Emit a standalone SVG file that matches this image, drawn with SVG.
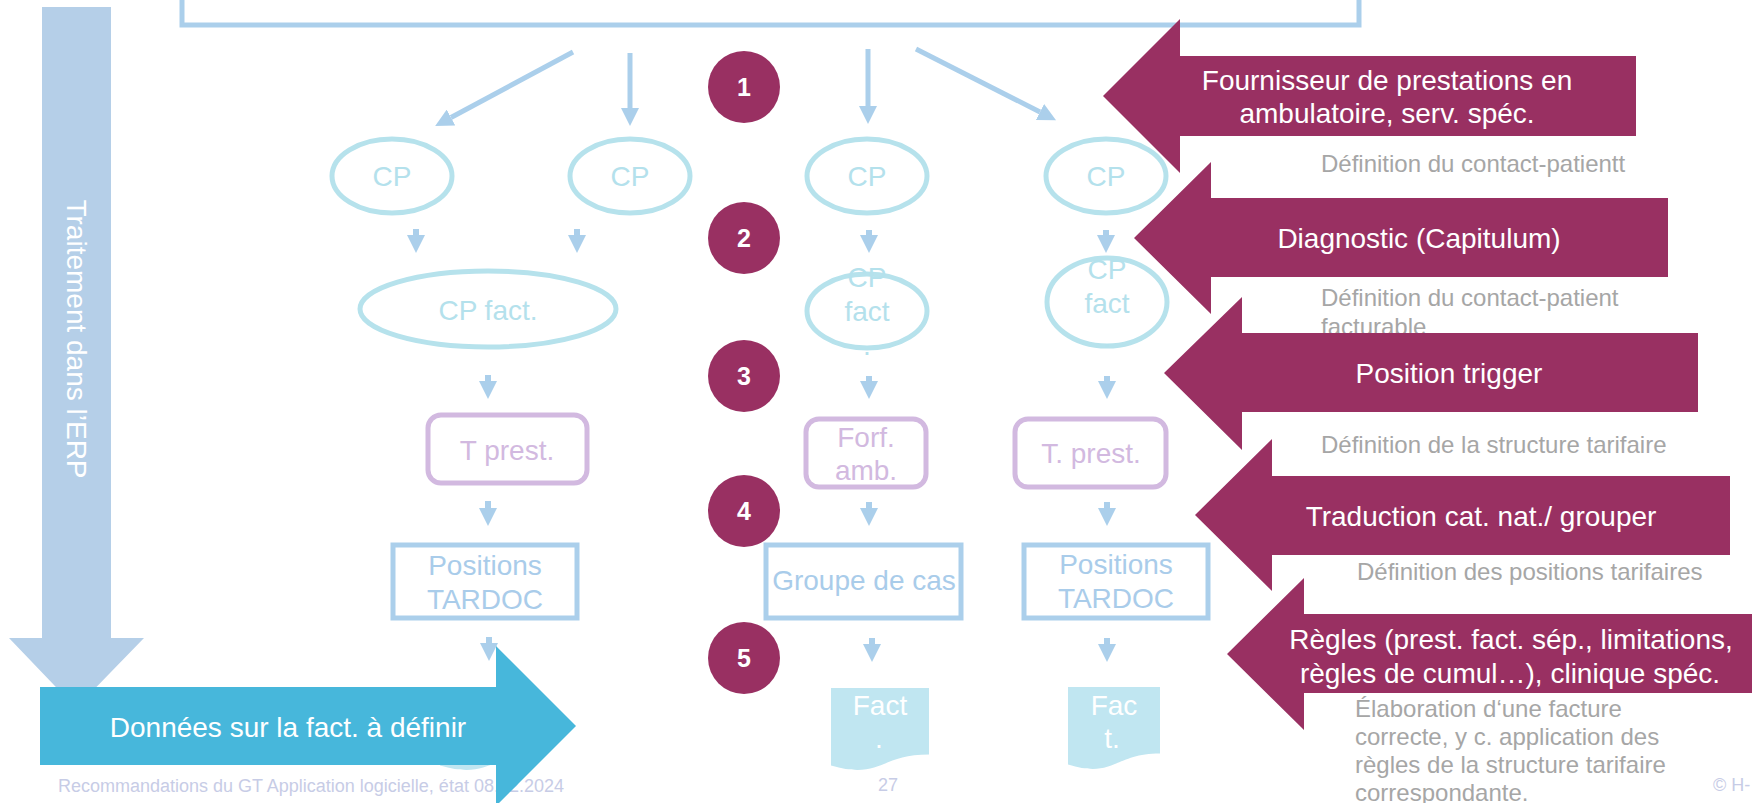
<svg xmlns="http://www.w3.org/2000/svg" width="1752" height="803" viewBox="0 0 1752 803">
<defs>
<style>
text{font-family:"Liberation Sans",Arial,sans-serif}
.t28{font-size:28px;text-anchor:middle}
.cyan{fill:#B4E1EC}
.lilac{fill:#D2B9E0}
.blue{fill:#A9CCEA}
.white{fill:#FFFFFF}
.gray{fill:#A6A6A6;font-size:24px}
.foot{fill:#C7CCE6;font-size:18px}
.num{fill:#FFFFFF;font-size:25px;font-weight:bold;text-anchor:middle}
.mag{fill:#993062}
.ell{fill:none;stroke:#B6E2EC;stroke-width:5}
.rr{fill:none;stroke:#D2B9E0;stroke-width:5}
.bx{fill:none;stroke:#ABCFEB;stroke-width:5}
.doc{fill:#C0E6F1}
.con{stroke:#ABCFEB;fill:none;marker-end:url(#ah)}
</style>
<marker id="ah" markerUnits="userSpaceOnUse" markerWidth="18" markerHeight="18" viewBox="0 0 18 18" refX="0" refY="9" orient="auto">
<path d="M0,0 L18,9 L0,18 Z" fill="#ABCFEB"/>
</marker>
</defs>
<rect width="1752" height="803" fill="#FFFFFF"/>

<g id="erp-arrow">
<polygon points="42,7 111,7 111,638 144,638 76,708 9,638 42,638" fill="#B5CFE8"/>
<text class="white" font-size="28" text-anchor="middle" transform="translate(67,339) rotate(90)">Traitement dans l’ERP</text>
</g>

<g id="top-box">
<rect x="182" y="-60" width="1177" height="85" fill="#FFFFFF" stroke="#ABCFEB" stroke-width="5"/>
</g>

<g id="connectors">
<line class="con" stroke-width="5" x1="573" y1="52" x2="451" y2="117.5"/>
<line class="con" stroke-width="5" x1="630" y1="53" x2="630" y2="108"/>
<line class="con" stroke-width="5" x1="868" y1="49" x2="868" y2="106"/>
<line class="con" stroke-width="5" x1="916" y1="49" x2="1040" y2="112"/>
<line class="con" stroke-width="6" x1="416" y1="229" x2="416" y2="235"/>
<line class="con" stroke-width="6" x1="577" y1="229" x2="577" y2="235"/>
<line class="con" stroke-width="6" x1="869" y1="230" x2="869" y2="235"/>
<line class="con" stroke-width="6" x1="1106" y1="230" x2="1106" y2="235"/>
<line class="con" stroke-width="6" x1="488" y1="375" x2="488" y2="381"/>
<line class="con" stroke-width="6" x1="869" y1="376" x2="869" y2="381"/>
<line class="con" stroke-width="6" x1="1107" y1="376" x2="1107" y2="381"/>
<line class="con" stroke-width="6" x1="488" y1="501" x2="488" y2="508"/>
<line class="con" stroke-width="6" x1="869" y1="502" x2="869" y2="508"/>
<line class="con" stroke-width="6" x1="1107" y1="502" x2="1107" y2="508"/>
<line class="con" stroke-width="6" x1="489" y1="637" x2="489" y2="643"/>
<line class="con" stroke-width="6" x1="872" y1="638" x2="872" y2="644"/>
<line class="con" stroke-width="6" x1="1107" y1="638" x2="1107" y2="644"/>
</g>

<g id="cp-1"><ellipse class="ell" cx="392" cy="176" rx="60" ry="37"/><text class="t28 cyan" x="392" y="186">CP</text></g>
<g id="cp-2"><ellipse class="ell" cx="630" cy="176" rx="60" ry="37"/><text class="t28 cyan" x="630" y="186">CP</text></g>
<g id="cp-3"><ellipse class="ell" cx="867" cy="176" rx="60" ry="37"/><text class="t28 cyan" x="867" y="186">CP</text></g>
<g id="cp-4"><ellipse class="ell" cx="1106" cy="176" rx="60" ry="37"/><text class="t28 cyan" x="1106" y="186">CP</text></g>

<g id="cpfact-12"><ellipse class="ell" cx="488" cy="309" rx="128" ry="38"/><text class="t28 cyan" x="488" y="320">CP fact.</text></g>
<g id="cpfact-3"><ellipse class="ell" cx="867" cy="311" rx="60" ry="37"/><text class="t28 cyan" x="867" y="287">CP</text><text class="t28 cyan" x="867" y="321">fact</text><text class="t28 cyan" x="867" y="355">.</text></g>
<g id="cpfact-4"><ellipse class="ell" cx="1107" cy="302" rx="60" ry="44"/><text class="t28 cyan" x="1107" y="279">CP</text><text class="t28 cyan" x="1107" y="313">fact</text><text class="t28 cyan" x="1107" y="347">.</text></g>

<g id="tprest-12"><rect class="rr" x="428" y="415" width="159" height="68" rx="13"/><text class="t28 lilac" x="507" y="460">T prest.</text></g>
<g id="forf-3"><rect class="rr" x="806" y="419" width="120" height="68" rx="13"/><text class="t28 lilac" x="866" y="447">Forf.</text><text class="t28 lilac" x="866" y="480">amb.</text></g>
<g id="tprest-4"><rect class="rr" x="1015" y="419" width="151" height="68" rx="13"/><text class="t28 lilac" x="1091" y="463">T. prest.</text></g>

<g id="pos-12"><rect class="bx" x="393" y="545" width="184" height="73"/><text class="t28 blue" x="485" y="575">Positions</text><text class="t28 blue" x="485" y="609">TARDOC</text></g>
<g id="groupe-3"><rect class="bx" x="766" y="545" width="195" height="73"/><text class="t28 blue" x="864" y="590">Groupe de cas</text></g>
<g id="pos-4"><rect class="bx" x="1024" y="545" width="184" height="73"/><text class="t28 blue" x="1116" y="574">Positions</text><text class="t28 blue" x="1116" y="608">TARDOC</text></g>

<g id="fact-12"><path class="doc" d="M440,688 H538 V754.6 C489,754.6 489,779.9 440,765.5 Z"/></g>
<g id="fact-3"><path class="doc" d="M831,688 H929 V754.6 C880,754.6 880,779.9 831,765.5 Z"/><text class="t28 white" x="880" y="715">Fact</text><text class="t28 white" x="879" y="748">.</text></g>
<g id="fact-4"><path class="doc" d="M1068,687 H1160 V753.6 C1114,753.6 1114,778.9 1068,764.5 Z"/><text class="t28 white" x="1114" y="715">Fac</text><text class="t28 white" x="1112" y="748">t.</text></g>

<g id="footer">
<text class="foot" x="58" y="792">Recommandations du GT Application logicielle, état 08.12.2024</text>
<text class="foot" x="888" y="791" text-anchor="middle">27</text>
<text class="foot" x="1713" y="791">© H-</text>
</g>

<g id="billing-arrow">
<polygon points="40,687 496,687 496,646 576,726 496,806 496,765 40,765" fill="#47B7DB"/>
<text class="t28 white" x="288" y="737">Données sur la fact. à définir</text>
</g>

<g id="descriptions">
<text class="gray" x="1321" y="172">Définition du contact-patientt</text>
<text class="gray" x="1321" y="306">Définition du contact-patient</text>
<text class="gray" x="1321" y="335">facturable</text>
<text class="gray" x="1321" y="453">Définition de la structure tarifaire</text>
<text class="gray" x="1357" y="580">Définition des positions tarifaires</text>
<text class="gray" x="1355" y="717">Élaboration d‘une facture</text>
<text class="gray" x="1355" y="745">correcte, y c. application des</text>
<text class="gray" x="1355" y="773">règles de la structure tarifaire</text>
<text class="gray" x="1355" y="801">correspondante.</text>
</g>

<g id="arrow-1">
<polygon class="mag" points="1103,96 1180,19 1180,56 1636,56 1636,136 1180,136 1180,173"/>
<text class="t28 white" x="1387" y="90">Fournisseur de prestations en</text>
<text class="t28 white" x="1387" y="123">ambulatoire, serv. spéc.</text>
</g>
<g id="arrow-2">
<polygon class="mag" points="1134,238 1211,162 1211,198 1668,198 1668,277 1211,277 1211,314"/>
<text class="t28 white" x="1419" y="248">Diagnostic (Capitulum)</text>
</g>
<g id="arrow-3">
<polygon class="mag" points="1164,373 1242,297 1242,333 1698,333 1698,412 1242,412 1242,450"/>
<text class="t28 white" x="1449" y="383">Position trigger</text>
</g>
<g id="arrow-4">
<polygon class="mag" points="1195,515 1272,439 1272,476 1730,476 1730,555 1272,555 1272,591"/>
<text class="t28 white" x="1481" y="526">Traduction cat. nat./ grouper</text>
</g>
<g id="arrow-5">
<polygon class="mag" points="1227,654 1304,578 1304,614 1760,614 1760,693 1304,693 1304,730"/>
<text class="t28 white" x="1511" y="649">Règles (prest. fact. sép., limitations,</text>
<text class="t28 white" x="1510" y="683">règles de cumul…), clinique spéc.</text>
</g>

<g id="step-1"><circle class="mag" cx="744" cy="87" r="36"/><text class="num" x="744" y="96">1</text></g>
<g id="step-2"><circle class="mag" cx="744" cy="238" r="36"/><text class="num" x="744" y="247">2</text></g>
<g id="step-3"><circle class="mag" cx="744" cy="376" r="36"/><text class="num" x="744" y="385">3</text></g>
<g id="step-4"><circle class="mag" cx="744" cy="511" r="36"/><text class="num" x="744" y="520">4</text></g>
<g id="step-5"><circle class="mag" cx="744" cy="658" r="36"/><text class="num" x="744" y="667">5</text></g>
</svg>
